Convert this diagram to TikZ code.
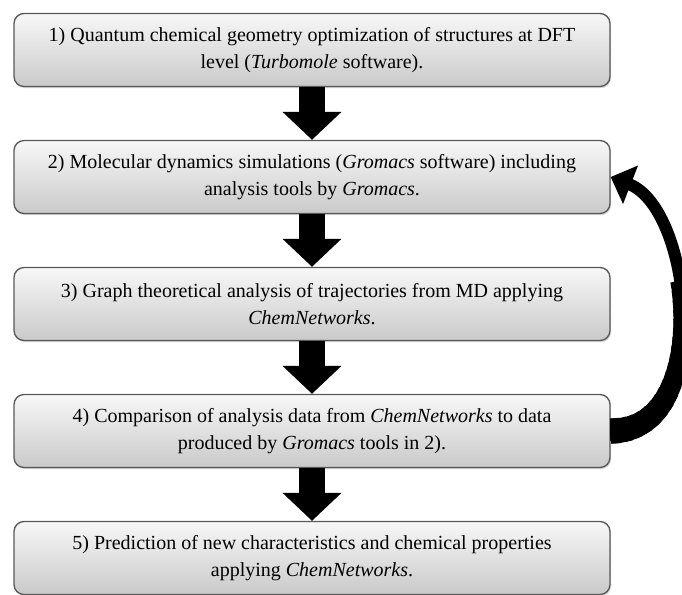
\documentclass[tikz,border=0pt]{standalone}
\usepackage{fontspec}
\setmainfont{Liberation Serif}
\usetikzlibrary{arrows.meta,shadows}
\tikzset{
	etape/.style={draw=black!65,line width=1pt,rounded corners=7.5pt,top color=gray!6,bottom color=gray!42,minimum width=447pt,minimum height=54.75pt,align=center,font=\fontsize{15}{20}\selectfont,drop shadow={shadow xshift=0.8pt,shadow yshift=-1.2pt,opacity=0.35}},
	fleche/.style={line width=19.5pt,-{Triangle[length=21pt,width=43pt]}},
	retour/.style={line width=#1},
}
\begin{document}
\begin{tikzpicture}[x=0.75pt,y=-0.75pt]
	\useasboundingbox (0,0) rectangle (682,594);
	% les cinq etapes
	\node[etape] (e1) at (312,50) {1) Quantum chemical geometry optimization of structures at DFT\\level (\textit{Turbomole} software).};
	\node[etape] (e2) at (312,177) {2) Molecular dynamics simulations (\textit{Gromacs} software) including\\analysis tools by \textit{Gromacs}.};
	\node[etape] (e3) at (312,304) {3) Graph theoretical analysis of trajectories from MD applying\\\textit{ChemNetworks}.};
	\node[etape] (e4) at (312,431) {4) Comparison of analysis data from \textit{ChemNetworks} to data\\produced by \textit{Gromacs} tools in 2).};
	\node[etape] (e5) at (312,558) {5) Prediction of new characteristics and chemical properties\\applying \textit{ChemNetworks}.};
	% les fleches
	\draw[fleche] (e1.south) -- (e2.north);
	\draw[fleche] (e2.south) -- (e3.north);
	\draw[fleche] (e3.south) -- (e4.north);
	\draw[fleche] (e4.south) -- (e5.north);
	% retour de 4) vers 2), plus epais en bas
	\draw[retour=9pt,-{Triangle[length=16pt,width=30pt]}] (e4.east) .. controls +(105,0) and +(82,32) .. (e2.east);
	\foreach \i in {1,...,20}{
		\pgfmathsetmacro\w{19.5-0.5*\i}
		\draw[retour=\w pt,dash pattern=on 7*\i pt off 1000pt] (e4.east) .. controls +(105,0) and +(82,32) .. (e2.east);
	}
\end{tikzpicture}
\end{document}
